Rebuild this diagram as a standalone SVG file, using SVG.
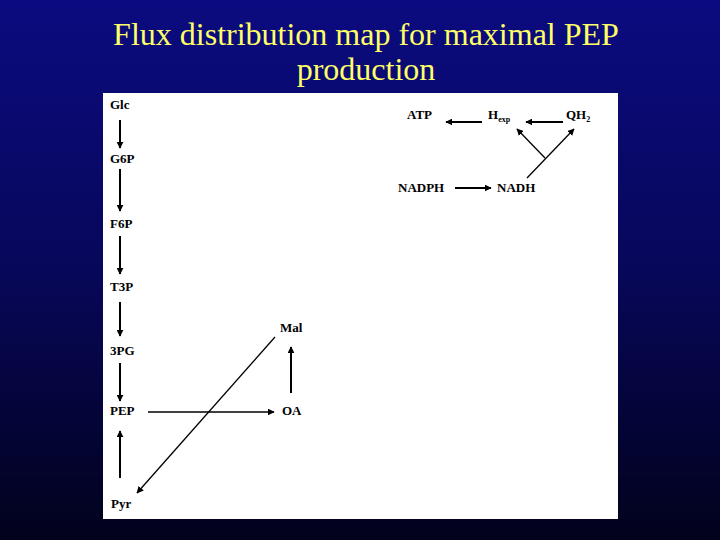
<svg xmlns="http://www.w3.org/2000/svg" width="720" height="540" viewBox="0 0 720 540">
<defs>
<linearGradient id="bg" x1="0" y1="0" x2="0" y2="1">
<stop offset="0" stop-color="#0b0b80"/>
<stop offset="0.5" stop-color="#07075a"/>
<stop offset="1" stop-color="#02021c"/>
</linearGradient>
<marker id="ah" viewBox="0 0 10 10" refX="9" refY="5" markerWidth="7" markerHeight="7" markerUnits="userSpaceOnUse" orient="auto">
<path d="M0,0 L10,5 L0,10 z" fill="#000"/>
</marker>
</defs>
<style>
text{font-family:'Liberation Serif','DejaVu Serif',serif}
.lbl{font-weight:bold;font-size:13px;fill:#000}
.sub{font-size:8px}
.title{font-size:32px;fill:#ffff66;text-anchor:middle}
.c{stroke:#000;stroke-width:2;fill:none;marker-end:url(#ah)}
.t{stroke-width:1.3}
</style>
<rect x="0" y="0" width="720" height="540" fill="url(#bg)"/>
<text class="title" x="366" y="45" font-family="Liberation Serif, serif">Flux distribution map for maximal PEP</text>
<text class="title" x="366" y="80" font-family="Liberation Serif, serif">production</text>
<rect x="103" y="93" width="515" height="426" fill="#fff"/>
<g id="connectors">
<line class="c" x1="120" y1="120" x2="120" y2="148"/>
<line class="c" x1="120" y1="169" x2="120" y2="211"/>
<line class="c" x1="120" y1="236" x2="120" y2="274"/>
<line class="c" x1="120" y1="302" x2="120" y2="336"/>
<line class="c" x1="120" y1="363" x2="120" y2="401"/>
<line class="c" x1="120" y1="478" x2="120" y2="431"/>
<line class="c t" x1="148" y1="412" x2="274" y2="412"/>
<line class="c" x1="291" y1="393" x2="291" y2="347"/>
<line class="c t" x1="275" y1="337" x2="137" y2="493"/>
<line class="c" x1="482" y1="122" x2="446" y2="122"/>
<line class="c" x1="563" y1="122" x2="526" y2="122"/>
<line class="c" x1="455" y1="188" x2="491" y2="188"/>
<line class="c t" x1="545" y1="158" x2="517" y2="129"/>
<line class="c t" x1="527" y1="178" x2="574" y2="129"/>
</g>
<g id="Glc"><text class="lbl" x="110" y="109">Glc</text></g>
<g id="G6P"><text class="lbl" x="110" y="163">G6P</text></g>
<g id="F6P"><text class="lbl" x="110" y="228">F6P</text></g>
<g id="T3P"><text class="lbl" x="110" y="291">T3P</text></g>
<g id="3PG"><text class="lbl" x="110" y="355">3PG</text></g>
<g id="PEP"><text class="lbl" x="110" y="415">PEP</text></g>
<g id="Pyr"><text class="lbl" x="111" y="508">Pyr</text></g>
<g id="OA"><text class="lbl" x="282" y="415">OA</text></g>
<g id="Mal"><text class="lbl" x="280" y="332">Mal</text></g>
<g id="ATP"><text class="lbl" x="407" y="119">ATP</text></g>
<g id="Hexp"><text class="lbl" x="488" y="119">H<tspan class="sub" dy="3">exp</tspan></text></g>
<g id="QH2"><text class="lbl" x="566" y="119">QH<tspan class="sub" dy="3">2</tspan></text></g>
<g id="NADPH"><text class="lbl" x="398" y="192">NADPH</text></g>
<g id="NADH"><text class="lbl" x="497" y="192">NADH</text></g>
</svg>
